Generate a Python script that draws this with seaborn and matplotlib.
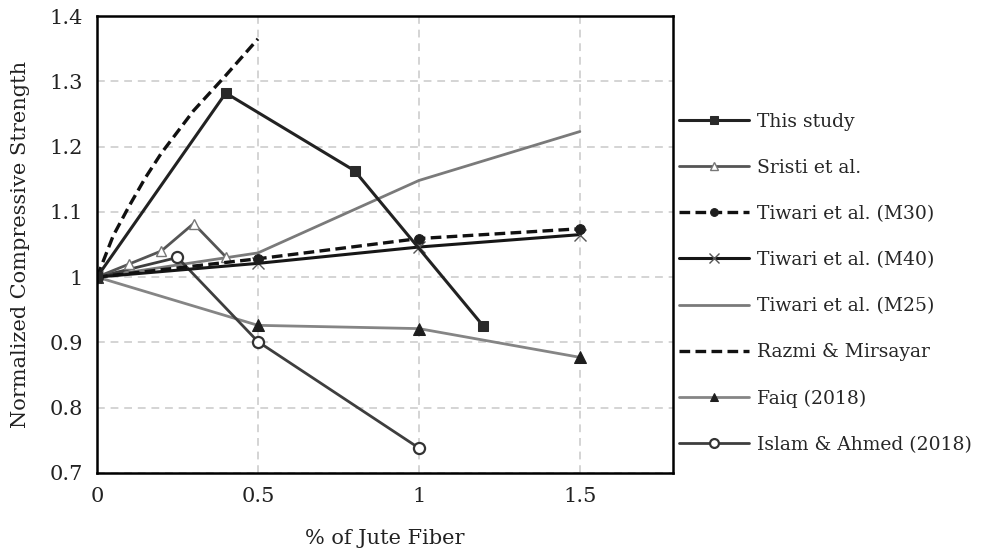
import matplotlib
matplotlib.use("Agg")
import matplotlib.pyplot as plt
import seaborn as sns
import pandas as pd

# Normalized compressive strength vs jute fiber content for each study
this_study_x = [0, 0.4, 0.8, 1.2]
this_study_y = [1.0, 1.282, 1.163, 0.925]

sristi_x = [0, 0.1, 0.2, 0.3, 0.4]
sristi_y = [1.0, 1.02, 1.04, 1.082, 1.031]

tiwari_m30_x = [0, 0.5, 1.0, 1.5]
tiwari_m30_y = [1.0, 1.028, 1.059, 1.074]

tiwari_m40_x = [0, 0.5, 1.0, 1.5]
tiwari_m40_y = [1.0, 1.021, 1.046, 1.065]

tiwari_m25_x = [0, 0.5, 1.0, 1.5]
tiwari_m25_y = [1.0, 1.037, 1.148, 1.223]

razmi_x = [0, 0.05, 0.1, 0.15, 0.2, 0.3, 0.4, 0.5]
razmi_y = [1.0, 1.063, 1.109, 1.152, 1.19, 1.255, 1.309, 1.365]

faiq_x = [0, 0.5, 1.0, 1.5]
faiq_y = [1.0, 0.926, 0.921, 0.877]

islam_x = [0, 0.25, 0.5, 1.0]
islam_y = [1.0, 1.03, 0.901, 0.738]

x_ticks = [0, 0.5, 1, 1.5]
x_tick_labels = ["0", "0.5", "1", "1.5"]
y_ticks = [0.7, 0.8, 0.9, 1.0, 1.1, 1.2, 1.3, 1.4]
y_tick_labels = ["0.7", "0.8", "0.9", "1", "1.1", "1.2", "1.3", "1.4"]

sns.set_theme(style="white")
plt.rcParams["font.family"] = ["DejaVu Serif"]

fig = plt.figure(figsize=(9.9, 5.53), dpi=100)
ax = fig.add_axes([0.098, 0.145, 0.582, 0.826])

series = [
    ("Tiwari et al. (M25)", tiwari_m25_x, tiwari_m25_y,
     dict(color="#7a7a7a", linestyle="-", linewidth=2.0)),
    ("Faiq (2018)", faiq_x, faiq_y,
     dict(color="#858585", linestyle="-", linewidth=2.0, marker="^",
          markersize=8, markerfacecolor="#1e1e1e", markeredgecolor="#1e1e1e")),
    ("Islam & Ahmed (2018)", islam_x, islam_y,
     dict(color="#3e3e3e", linestyle="-", linewidth=2.0, marker="o",
          markersize=8, markerfacecolor="white", markeredgecolor="#333333",
          markeredgewidth=1.6)),
    ("Sristi et al.", sristi_x, sristi_y,
     dict(color="#555555", linestyle="-", linewidth=2.0, marker="^",
          markersize=7, markerfacecolor="white", markeredgecolor="#777777",
          markeredgewidth=1.0)),
    ("Tiwari et al. (M40)", tiwari_m40_x, tiwari_m40_y,
     dict(color="#161616", linestyle="-", linewidth=2.2, marker="x",
          markersize=9, markeredgecolor="#555555", markeredgewidth=1.0)),
    ("Tiwari et al. (M30)", tiwari_m30_x, tiwari_m30_y,
     dict(color="#111111", linestyle=(0, (3.2, 1.6)), linewidth=2.4, marker="o",
          markersize=7, markerfacecolor="#1e1e1e", markeredgecolor="#1e1e1e")),
    ("Razmi & Mirsayar", razmi_x, razmi_y,
     dict(color="#111111", linestyle=(0, (3.2, 1.6)), linewidth=2.4)),
    ("This study", this_study_x, this_study_y,
     dict(color="#222222", linestyle="-", linewidth=2.2, marker="s",
          markersize=7.5, markerfacecolor="#2a2a2a", markeredgecolor="#2a2a2a")),
]

handles = {}
for name, xs, ys, style in series:
    df = pd.DataFrame({"x": xs, "y": ys})
    sns.lineplot(data=df, x="x", y="y", ax=ax, sort=False, estimator=None,
                 legend=False, **style)
    handles[name] = ax.lines[-1]

ax.set_xlim(0, 1.79)
ax.set_ylim(0.7, 1.4)
ax.set_xticks(x_ticks)
ax.set_xticklabels(x_tick_labels)
ax.set_yticks(y_ticks)
ax.set_yticklabels(y_tick_labels)

ax.grid(True, color="#d4d4d4", linestyle=(0, (4, 3)), linewidth=1.4)
ax.set_axisbelow(True)
for side in ["left", "bottom", "top", "right"]:
    ax.spines[side].set_color("black")
    ax.spines[side].set_linewidth(1.8)
    ax.spines[side].set_visible(True)

ax.tick_params(axis="both", direction="in", length=5, width=1.2,
               colors="black", labelsize=15, labelcolor="#222222")
ax.tick_params(axis="y", pad=10)
ax.tick_params(axis="x", pad=10)

ax.set_xlabel("% of Jute Fiber", fontsize=15, color="#222222", labelpad=17)
ax.set_ylabel("Normalized Compressive Strength", fontsize=15, color="#222222",
              labelpad=14)

legend_order = ["This study", "Sristi et al.", "Tiwari et al. (M30)",
                "Tiwari et al. (M40)", "Tiwari et al. (M25)", "Razmi & Mirsayar",
                "Faiq (2018)", "Islam & Ahmed (2018)"]
fig.legend([handles[n] for n in legend_order], legend_order,
           loc="center left", bbox_to_anchor=(0.678, 0.488), frameon=False,
           fontsize=13.5, handlelength=3.75, handletextpad=0.45,
           labelspacing=1.5, borderaxespad=0, markerscale=0.8)

fig.savefig("out.png", dpi=100)
